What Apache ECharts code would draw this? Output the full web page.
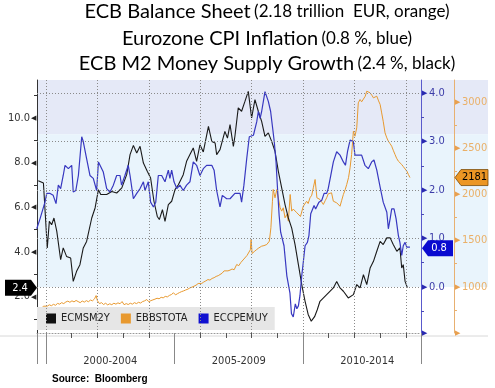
<!DOCTYPE html>
<html><head><meta charset="utf-8">
<script src="https://cdn.jsdelivr.net/npm/echarts@6/dist/echarts.min.js"></script>
<style>html,body{margin:0;padding:0;background:#fff}#c{width:495px;height:388px}</style>
</head><body><div id="c"></div>
<script>
// ---- data (decimal years) ----
const m2Years = [1999.70,1999.90,2000.05,2000.13,2000.22,2000.31,2000.42,2000.57,2000.67,2000.80,2000.96,2001.06,2001.19,2001.32,2001.45,2001.58,2001.65,2001.78,2001.91,2002.04,2002.13,2002.36,2002.56,2002.75,2002.95,2003.14,2003.27,2003.40,2003.53,2003.66,2003.79,2003.94,2004.07,2004.20,2004.33,2004.41,2004.53,2004.63,2004.76,2004.89,2005.02,2005.15,2005.34,2005.47,2005.60,2005.73,2005.86,2005.99,2006.12,2006.32,2006.45,2006.58,2006.64,2006.77,2006.96,2007.06,2007.16,2007.29,2007.35,2007.48,2007.61,2007.74,2007.87,2008.00,2008.13,2008.26,2008.39,2008.52,2008.65,2008.78,2008.91,2009.04,2009.17,2009.30,2009.43,2009.56,2009.69,2009.82,2009.95,2010.08,2010.20,2010.32,2010.45,2010.55,2010.66,2010.92,2011.18,2011.31,2011.44,2011.57,2011.76,2011.96,2012.09,2012.22,2012.35,2012.48,2012.61,2012.74,2012.87,2013.00,2013.12,2013.26,2013.39,2013.51,2013.65,2013.77,2013.84,2013.90,2013.97,2014.06];
const m2Values = [7.19,7.09,4.18,5.37,5.22,5.52,4.92,3.65,4.18,3.80,3.73,2.68,3.13,3.43,4.18,4.47,4.40,5.52,5.97,6.79,6.57,6.57,6.71,6.64,6.87,7.46,8.36,8.77,8.43,8.73,7.98,7.61,7.31,6.27,5.59,5.45,5.89,5.37,6.12,6.27,6.79,7.01,7.46,8.06,8.36,8.66,8.06,8.80,8.48,9.62,8.95,8.88,8.36,8.58,9.40,9.10,9.70,8.73,9.18,10.45,10.30,10.74,11.19,10.00,10.82,10.30,9.85,9.18,9.33,8.95,8.51,7.61,6.87,6.12,5.52,5.07,4.33,3.43,2.54,1.79,1.20,0.90,1.10,1.40,1.79,2.09,2.39,2.68,2.39,2.24,1.94,2.09,2.54,2.39,2.98,2.54,3.28,3.58,4.03,4.47,4.33,4.63,4.63,4.33,4.03,4.18,3.28,3.43,2.68,2.40];

const cpiYears = [1999.64,1999.77,1999.96,2000.03,2000.16,2000.28,2000.39,2000.48,2000.57,2000.67,2000.74,2000.87,2001.00,2001.06,2001.16,2001.26,2001.39,2001.45,2001.58,2001.71,2001.84,2001.97,2002.04,2002.10,2002.23,2002.36,2002.49,2002.62,2002.75,2002.88,2002.94,2003.07,2003.20,2003.27,2003.40,2003.53,2003.66,2003.79,2003.85,2003.98,2004.07,2004.18,2004.27,2004.37,2004.50,2004.63,2004.76,2004.82,2004.89,2004.98,2005.09,2005.21,2005.34,2005.47,2005.60,2005.73,2005.86,2005.99,2006.12,2006.25,2006.45,2006.54,2006.64,2006.77,2006.86,2007.03,2007.16,2007.35,2007.55,2007.61,2007.70,2007.81,2007.91,2008.07,2008.20,2008.26,2008.33,2008.39,2008.52,2008.65,2008.74,2008.82,2008.88,2008.95,2009.00,2009.07,2009.13,2009.19,2009.26,2009.37,2009.49,2009.55,2009.62,2009.70,2009.76,2009.82,2009.88,2009.95,2010.01,2010.08,2010.17,2010.23,2010.30,2010.36,2010.43,2010.49,2010.56,2010.62,2010.73,2010.82,2010.92,2010.98,2011.08,2011.18,2011.31,2011.44,2011.57,2011.65,2011.73,2011.83,2011.96,2012.02,2012.15,2012.28,2012.41,2012.54,2012.67,2012.76,2012.87,2013.00,2013.12,2013.26,2013.32,2013.39,2013.45,2013.54,2013.62,2013.71,2013.77,2013.84,2013.90,2013.97,2014.04,2014.16];
const cpiValues = [1.20,1.41,1.75,1.93,1.93,1.89,1.72,2.10,2.03,2.30,2.51,2.44,2.51,1.96,1.99,2.30,3.10,3.00,2.65,2.30,2.24,1.99,2.58,2.55,2.37,2.03,1.96,2.10,2.30,2.30,2.10,2.30,2.51,2.30,1.82,1.93,2.03,2.17,1.99,2.17,1.75,1.65,1.75,2.30,2.30,2.17,2.41,2.24,2.41,2.17,2.03,2.10,1.99,2.10,2.17,2.58,2.51,2.30,2.44,2.51,2.51,2.41,1.99,1.65,1.89,1.82,1.82,1.93,1.93,1.75,2.10,2.65,3.10,3.13,3.41,3.62,3.48,3.62,4.03,3.83,3.62,3.27,3.00,2.58,2.10,1.48,1.13,1.13,0.85,0.23,-0.12,-0.55,-0.62,-0.35,-0.45,-0.39,-0.18,0.23,0.51,0.85,0.92,1.06,1.51,1.54,1.68,1.61,1.61,1.75,1.79,1.93,1.93,2.03,2.30,2.58,2.79,2.72,2.58,2.51,2.79,3.03,3.00,2.72,2.72,2.72,2.51,2.44,2.58,2.62,2.41,2.06,1.75,1.54,1.20,1.41,1.61,1.61,1.41,1.06,0.92,0.65,0.85,0.92,0.82,0.82];

const bsYears = [1999.66,1999.74,1999.82,1999.90,1999.97,2000.05,2000.13,2000.21,2000.29,2000.37,2000.45,2000.53,2000.61,2000.69,2000.77,2000.85,2000.93,2001.01,2001.09,2001.17,2001.25,2001.33,2001.41,2001.49,2001.57,2001.65,2001.73,2001.81,2001.89,2001.95,2002.00,2002.08,2002.16,2002.24,2002.32,2002.40,2002.48,2002.56,2002.64,2002.72,2002.80,2002.88,2002.96,2003.04,2003.12,2003.20,2003.28,2003.36,2003.44,2003.52,2003.60,2003.68,2003.76,2003.84,2003.92,2004.00,2004.08,2004.16,2004.24,2004.32,2004.40,2004.48,2004.56,2004.64,2004.72,2004.80,2004.88,2004.96,2005.04,2005.12,2005.20,2005.28,2005.36,2005.44,2005.52,2005.60,2005.68,2005.76,2005.84,2005.92,2005.98,2006.06,2006.14,2006.22,2006.30,2006.38,2006.46,2006.54,2006.62,2006.70,2006.77,2006.85,2006.93,2007.00,2007.08,2007.16,2007.24,2007.32,2007.42,2007.50,2007.58,2007.64,2007.70,2007.76,2007.82,2007.88,2007.95,2007.98,2008.02,2008.10,2008.20,2008.28,2008.39,2008.48,2008.59,2008.69,2008.75,2008.81,2008.84,2008.91,2008.98,2009.04,2009.11,2009.17,2009.23,2009.30,2009.37,2009.43,2009.48,2009.50,2009.56,2009.62,2009.69,2009.76,2009.82,2009.90,2009.95,2010.01,2010.08,2010.14,2010.20,2010.27,2010.34,2010.40,2010.47,2010.54,2010.60,2010.66,2010.72,2010.79,2010.86,2010.92,2010.98,2011.05,2011.11,2011.18,2011.25,2011.31,2011.38,2011.44,2011.50,2011.57,2011.64,2011.70,2011.77,2011.83,2011.89,2011.96,2012.02,2012.09,2012.15,2012.22,2012.28,2012.35,2012.42,2012.48,2012.55,2012.61,2012.68,2012.74,2012.80,2012.87,2012.94,2013.00,2013.06,2013.12,2013.19,2013.26,2013.32,2013.38,2013.45,2013.52,2013.58,2013.64,2013.71,2013.78,2013.84,2013.90,2013.97,2014.04,2014.10,2014.16];
const bsValues = [725,740,765,790,775,790,805,795,810,800,820,812,828,818,835,845,832,848,836,852,840,828,846,834,850,838,856,848,870,905,850,818,828,808,822,804,816,806,822,812,826,816,840,806,818,808,822,812,828,818,832,824,840,848,862,838,850,858,866,876,870,886,880,896,890,906,916,935,912,926,938,948,956,966,974,988,996,1006,1018,1035,1052,1036,1052,1064,1078,1072,1090,1098,1112,1120,1133,1146,1172,1160,1172,1180,1192,1184,1241,1228,1262,1248,1300,1320,1338,1350,1400,1511,1360,1380,1403,1420,1439,1445,1457,1493,1638,1925,2052,1962,2052,2070,1854,1818,1854,1746,1782,1709,1720,1998,1818,1840,1854,1800,1782,1760,1746,1871,1880,1925,1900,1962,1990,2070,2160,1962,1950,1944,1920,1890,1930,1962,2005,1998,2016,1925,1920,1908,1890,1871,1930,1998,2050,2106,2180,2286,2430,2682,2628,2719,2989,3025,3000,2989,3060,3115,3100,3097,3070,3043,3055,3061,3010,2971,2880,2790,2665,2610,2574,2550,2520,2470,2430,2390,2358,2340,2322,2300,2286,2250,2214,2181];

const seriesNames = ['ECMSM2Y','EBBSTOTA','ECCPEMUY'];
const periodLabels = ['2000-2004','2005-2009','2010-2014'];
const periodCenters = [2002.5, 2007.5, 2012.5];
const majorTickYears = [1999.65, 2000, 2005, 2010, 2014.59];
const minorTickYears = [2001,2002,2003,2004,2006,2007,2008,2009,2011,2012,2013,2014];
const gridYears = [2000,2002,2004,2006,2008,2010,2012,2014];
const m2Ticks = [2,4,6,8,10];
const m2MinorTicks = [1,3,5,7,9,11];
const cpiTicks = [0,1,2,3,4];
const cpiMinorTicks = [-0.5,0.5,1.5,2.5,3.5];
const bsTicks = [1000,1500,2000,2500,3000];
const bsMinorTicks = [750,1250,1750,2250,2750];
const lastM2 = '2.4', lastCPI = '0.8', lastBS = '2181';

const X_MIN = 1999.65, X_MAX = 2014.59;
const F = 'DejaVu Sans Condensed';
const pairs = (xs, ys) => xs.map((x, i) => [x, ys[i]]);

const chart = echarts.init(document.getElementById('c'));
const option = {
  animation: false,
  grid: { left: 37, right: 74, top: 80, bottom: 55 },
  legend: {
    data: seriesNames, left: 37, top: 307, padding: [6, 7, 6, 9], itemGap: 11,
    itemWidth: 10, itemHeight: 10, icon: 'rect', backgroundColor: '#e6e6e6',
    textStyle: { fontSize: 11, color: '#222', fontFamily: F }
  },
  xAxis: [{
    type: 'value', min: X_MIN, max: X_MAX, position: 'bottom',
    axisLine: { show: true, onZero: false, lineStyle: { color: '#999', type: [1, 2] } },
    axisTick: { show: true, customValues: majorTickYears, length: 31, lineStyle: { color: '#888' } },
    axisLabel: {
      customValues: periodCenters, margin: 23, fontSize: 11, color: '#333', fontFamily: F,
      formatter: v => { const i = periodCenters.findIndex(c => Math.abs(c - v) < 0.01); return i >= 0 ? periodLabels[i] : ''; }
    },
    splitLine: { show: false }
  }, {
    type: 'value', min: X_MIN, max: X_MAX, position: 'bottom',
    axisLine: { show: false, onZero: false },
    axisTick: { show: true, customValues: minorTickYears, length: 5, lineStyle: { color: '#555' } },
    axisLabel: { show: false }, splitLine: { show: false }
  }],
  yAxis: [{
    type: 'value', position: 'left', min: 0.37, max: 11.7,
    axisLine: { show: true, onZero: false, lineStyle: { color: '#333' } },
    axisTick: { show: true, customValues: m2MinorTicks, length: 3, lineStyle: { color: '#333' } },
    axisLabel: {
      customValues: m2Ticks, margin: 1,
      formatter: v => '{v|' + v.toFixed(1) + '}{t|◀}',
      rich: { v: { fontSize: 11, color: '#333', fontFamily: F, padding: [0, 1, 0, 0] }, t: { fontSize: 7, color: '#222' } }
    },
    splitLine: { show: false }
  }, {
    type: 'value', position: 'right', min: -0.95, max: 4.27,
    axisLine: { show: true, onZero: false, lineStyle: { color: '#5a5acc' } },
    axisTick: { show: true, customValues: cpiMinorTicks, length: 3, lineStyle: { color: '#4a4ab8' } },
    axisLabel: {
      customValues: [-0.95].concat(cpiTicks), margin: 1,
      formatter: v => v < -0.5 ? '{t|▶}' : '{t|▶}{v|' + v.toFixed(1) + '}',
      rich: { t: { fontSize: 7, color: '#2a2ab0' }, v: { fontSize: 11, color: '#3c3ca8', fontFamily: F, padding: [0, 0, 0, 2] } }
    },
    splitLine: { show: false }
  }, {
    type: 'value', position: 'right', offset: 33, min: 500, max: 3236,
    axisLine: { show: true, onZero: false, lineStyle: { color: '#e8b070' } },
    axisTick: { show: true, customValues: bsMinorTicks, length: 3, lineStyle: { color: '#e8b070' } },
    axisLabel: {
      customValues: [500].concat(bsTicks), margin: 1,
      formatter: v => v < 750 ? '{t|▶}' : '{t|▶}{v|' + v + '}',
      rich: { t: { fontSize: 7, color: '#e8a050' }, v: { fontSize: 11, color: '#eab068', fontFamily: F, padding: [0, 0, 0, 2] } }
    },
    splitLine: { show: false }
  }],
  series: [{
    name: 'grid', type: 'line', xAxisIndex: 0, yAxisIndex: 1, data: [],
    showSymbol: false, silent: true, z: 1,
    markLine: {
      silent: true, symbol: ['none', 'none'], label: { show: false },
      lineStyle: { type: [1, 2], color: '#8a8a8a', width: 1, opacity: 1 },
      emphasis: { disabled: true },
      data: cpiTicks.map(v => ({ yAxis: v })).concat(gridYears.map(v => ({ xAxis: v })))
    }
  }, {
    name: 'EBBSTOTA', type: 'line', xAxisIndex: 0, yAxisIndex: 2, data: pairs(bsYears, bsValues),
    color: '#e8992f', showSymbol: false, lineStyle: { width: 1, color: '#e8992f' }, z: 2
  }, {
    name: 'ECMSM2Y', type: 'line', xAxisIndex: 0, yAxisIndex: 0, data: pairs(m2Years, m2Values),
    color: '#111', showSymbol: false, lineStyle: { width: 1.1, color: '#1a1a1a' }, z: 3
  }, {
    name: 'ECCPEMUY', type: 'line', xAxisIndex: 0, yAxisIndex: 1, data: pairs(cpiYears, cpiValues),
    color: '#1010d0', showSymbol: false, lineStyle: { width: 1.2, color: '#3838c0' }, z: 3
  }]
};
chart.setOption(option);

// decorations positioned through the axes
const px = (axis, v) => chart.convertToPixel(axis, v);
const xL = px({ xAxisIndex: 0 }, X_MIN);
const yTop = px({ yAxisIndex: 1 }, 4.27);
const yBand = px({ yAxisIndex: 1 }, 3.15);
const yZero = px({ yAxisIndex: 1 }, 0);
const yBot = px({ yAxisIndex: 1 }, -0.95);
const xR = 488;
const yM2 = px({ yAxisIndex: 0 }, parseFloat(lastM2));
const yCPI = px({ yAxisIndex: 1 }, parseFloat(lastCPI));
const yBS = px({ yAxisIndex: 2 }, parseFloat(lastBS));
const xBlue = px({ xAxisIndex: 0 }, X_MAX);
const xOr = xBlue + 33;
const tagFont = '11px "DejaVu Sans Condensed"';
const titleRich = {
  b: { fontFamily: 'Lato', fontSize: 20, fill: '#000' },
  s: { fontFamily: 'Lato', fontSize: 17, fill: '#000' }
};

chart.setOption({
  graphic: [
    { type: 'rect', z: -10, silent: true, shape: { x: xL, y: yTop, width: xR - xL, height: yBand - yTop }, style: { fill: '#e5e9f7' } },
    { type: 'rect', z: -10, silent: true, shape: { x: xL, y: yBand, width: xR - xL, height: yZero - yBand }, style: { fill: '#e9f4fc' } },
    { type: 'line', z: -10, silent: true, shape: { x1: 0, y1: yBot + 3, x2: xR, y2: yBot + 3 }, style: { stroke: '#d8d8d8', lineWidth: 1 } },
    // title
    { type: 'text', x: 267, y: 12, style: { text: '{b|ECB Balance Sheet} {s|(2.18 trillion  EUR, orange)}', align: 'center', verticalAlign: 'middle', rich: titleRich } },
    { type: 'text', x: 267, y: 38.5, style: { text: '{b|Eurozone CPI Inflation} {s|(0.8 %, blue)}', align: 'center', verticalAlign: 'middle', rich: titleRich } },
    { type: 'text', x: 267, y: 63.5, style: { text: '{b|ECB M2 Money Supply Growth} {s|(2.4 %, black)}', align: 'center', verticalAlign: 'middle', rich: titleRich } },
    // source
    { type: 'text', x: 52, y: 379, style: { text: 'Source:  Bloomberg', font: 'bold 10px "Liberation Sans"', fill: '#000', align: 'left', verticalAlign: 'middle' } },
    // value tags
    { type: 'polygon', z: 10, shape: { points: [[5, yM2 - 8], [31, yM2 - 8], [37, yM2], [31, yM2 + 8], [5, yM2 + 8]] }, style: { fill: '#000' } },
    { type: 'text', z: 11, x: 20, y: yM2, style: { text: lastM2, font: tagFont, fill: '#fff', align: 'center', verticalAlign: 'middle' } },
    { type: 'polygon', z: 10, shape: { points: [[xBlue + 1, yCPI], [xBlue + 7, yCPI - 8], [xBlue + 32, yCPI - 8], [xBlue + 32, yCPI + 8], [xBlue + 7, yCPI + 8]] }, style: { fill: '#0a0ad0' } },
    { type: 'text', z: 11, x: xBlue + 18, y: yCPI, style: { text: lastCPI, font: tagFont, fill: '#fff', align: 'center', verticalAlign: 'middle' } },
    { type: 'polygon', z: 10, shape: { points: [[xOr + 1, yBS], [xOr + 7, yBS - 8], [xR, yBS - 8], [xR, yBS + 8], [xOr + 7, yBS + 8]] }, style: { fill: '#ec9624', stroke: '#7a4a08', lineWidth: 0.8 } },
    { type: 'text', z: 11, x: (xOr + 7 + xR) / 2, y: yBS, style: { text: lastBS, font: tagFont, fill: '#000', align: 'center', verticalAlign: 'middle' } }
  ]
});
</script>
</body></html>
